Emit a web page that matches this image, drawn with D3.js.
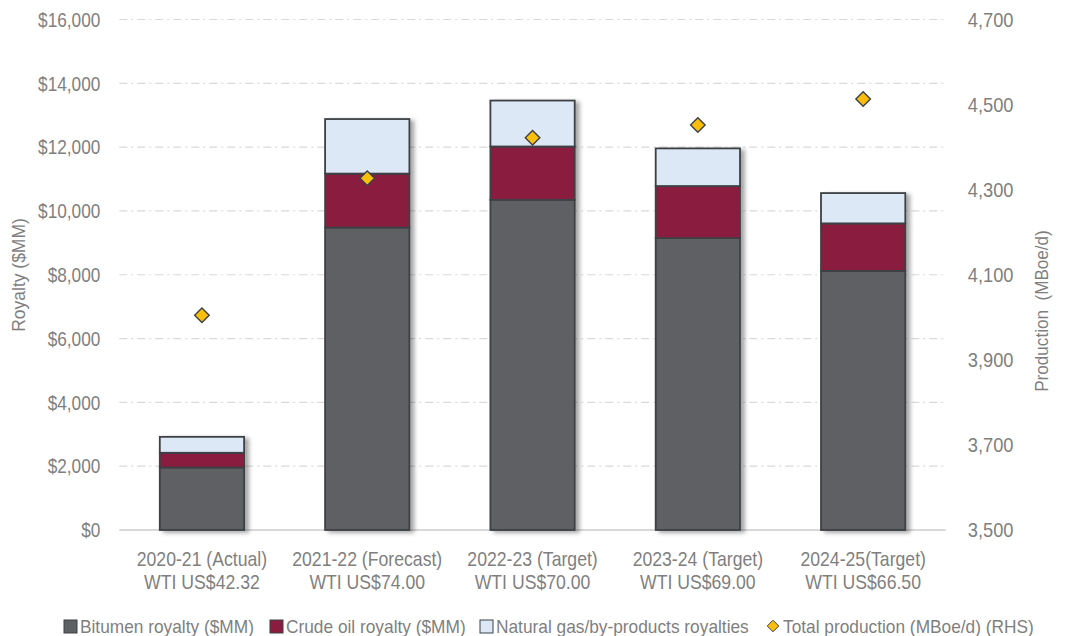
<!DOCTYPE html>
<html>
<head>
<meta charset="utf-8">
<script src="https://cdn.jsdelivr.net/npm/d3@7"></script>
<style>
  body { margin: 0; background: #fff; }
  text { font-family: 'Liberation Sans', Arial, sans-serif; fill: #7f7f7f; }
</style>
</head>
<body>
<svg id="chart" width="1066" height="636"></svg>
<script>
// data
const years = ['2020-21 (Actual)', '2021-22 (Forecast)', '2022-23 (Target)', '2023-24 (Target)', '2024-25(Target)'];
const wti = ['WTI US$42.32', 'WTI US$74.00', 'WTI US$70.00', 'WTI US$69.00', 'WTI US$66.50'];
const bitumen = [1960, 9480, 10350, 9150, 8120];
const crudeOil = [460, 1690, 1670, 1630, 1490];
const natGas = [500, 1710, 1440, 1180, 950];
const production = [4005, 4327, 4422, 4452, 4513];
const leftTicks = [0, 2000, 4000, 6000, 8000, 10000, 12000, 14000, 16000];
const rightTicks = [3500, 3700, 3900, 4100, 4300, 4500, 4700];
const seriesNames = ['Bitumen royalty ($MM)', 'Crude oil royalty ($MM)', 'Natural gas/by-products royalties', 'Total production (MBoe/d) (RHS)'];
const colors = ['#5e6164', '#8a1c3f', '#dce8f6', '#fbbf0b'];

const svg = d3.select('#chart');
const plotLeft = 119.3, plotRight = 945.8, plotTop = 19.5, plotBottom = 530;

const x = d3.scaleBand().domain(years).range([plotLeft, plotRight]).paddingInner(0.49).paddingOuter(0.245);
const y = d3.scaleLinear().domain([0, 16000]).range([plotBottom, plotTop]);
const y2 = d3.scaleLinear().domain([3500, 4700]).range([plotBottom, plotTop]);

// no narrow font installed, so squeeze the glyphs horizontally
function squeeze(sel, factor) {
	sel.each(function () {
		const len = this.getComputedTextLength();
		d3.select(this).attr('textLength', len * factor).attr('lengthAdjust', 'spacingAndGlyphs');
	});
}

const defs = svg.append('defs');
defs.append('filter').attr('id', 'shadow').attr('x', '-20%').attr('y', '-20%').attr('width', '150%').attr('height', '150%')
	.append('feDropShadow').attr('dx', 4).attr('dy', 2).attr('stdDeviation', 2)
	.attr('flood-color', '#000').attr('flood-opacity', 0.35);

/* gridlines */
svg.append('g').selectAll('line').data(leftTicks.filter(d => d > 0)).join('line')
	.attr('x1', plotLeft).attr('x2', plotRight)
	.attr('y1', d => y(d)).attr('y2', d => y(d))
	.attr('stroke', '#d9d9d9').attr('stroke-width', 1.2)
	.attr('stroke-dasharray', '8,4,2,4');

svg.append('line').attr('x1', plotLeft).attr('x2', plotRight).attr('y1', plotBottom).attr('y2', plotBottom)
	.attr('stroke', '#d9d9d9').attr('stroke-width', 2);

/* left axis */
const yAxis = svg.append('g').attr('transform', `translate(${plotLeft},0)`)
	.call(d3.axisLeft(y).tickValues(leftTicks).tickSize(0).tickPadding(19).tickFormat(d => '$' + d3.format(',')(d)));
yAxis.select('.domain').remove();
yAxis.attr('font-family', null).attr('font-size', null);
yAxis.selectAll('text').attr('font-size', 21).attr('fill', '#7f7f7f').call(squeeze, 0.82);

/* right axis */
const yAxis2 = svg.append('g').attr('transform', `translate(${plotRight},0)`)
	.call(d3.axisRight(y2).tickValues(rightTicks).tickSize(0).tickPadding(22).tickFormat(d3.format(',')));
yAxis2.select('.domain').remove();
yAxis2.attr('font-family', null).attr('font-size', null);
yAxis2.selectAll('text').attr('font-size', 21).attr('fill', '#7f7f7f').call(squeeze, 0.87);

svg.append('text').attr('transform', 'translate(25,275) rotate(-90)')
	.attr('text-anchor', 'middle').attr('font-size', 19).text('Royalty ($MM)').call(squeeze, 0.92);
svg.append('text').attr('transform', 'translate(1048,311) rotate(-90)')
	.attr('text-anchor', 'middle').attr('font-size', 19).attr('xml:space', 'preserve').text('Production  (MBoe/d)')
	.call(squeeze, 0.9);

/* stacked bars */
const rows = years.map((yr, i) => ({ year: yr, bitumen: bitumen[i], crude: crudeOil[i], gas: natGas[i] }));
const stack = d3.stack().keys(['bitumen', 'crude', 'gas'])(rows);

const barGroups = svg.append('g').selectAll('g').data(rows).join('g').attr('filter', 'url(#shadow)');
barGroups.each(function (d, i) {
	const g = d3.select(this);
	stack.forEach((s, k) => {
		g.append('rect')
			.attr('x', x(d.year))
			.attr('y', y(s[i][1]))
			.attr('width', x.bandwidth())
			.attr('height', y(s[i][0]) - y(s[i][1]))
			.attr('fill', colors[k])
			.attr('stroke', '#3d4144')
			.attr('stroke-width', 1.8);
	});
});

/* production diamonds */
const diamond = d3.symbol().type(d3.symbolDiamond2).size(135);
svg.append('g').selectAll('path').data(production).join('path')
	.attr('d', diamond)
	.attr('transform', (d, i) => `translate(${x(years[i]) + x.bandwidth() / 2},${y2(d)})`)
	.attr('fill', colors[3]).attr('stroke', '#3d4144').attr('stroke-width', 1.4);

/* x labels */
const xl = svg.append('g').selectAll('text').data(years).join('text')
	.attr('text-anchor', 'middle').attr('font-size', 21);
xl.append('tspan').attr('class', 'l1').attr('y', 566).attr('x', d => x(d) + x.bandwidth() / 2).text(d => d);
xl.append('tspan').attr('class', 'l2').attr('y', 589).attr('x', d => x(d) + x.bandwidth() / 2).text((d, i) => wti[i]);
xl.selectAll('tspan').call(squeeze, 0.84);

/* legend */
const legendX = [64, 270, 480, 766];
const legend = svg.append('g').attr('transform', 'translate(0,626)');
seriesNames.forEach((name, k) => {
	const item = legend.append('g').attr('transform', `translate(${legendX[k]},0)`);
	if (k < 3) {
		item.append('rect').attr('x', 0).attr('y', -6).attr('width', 13).attr('height', 13)
			.attr('fill', colors[k]).attr('stroke', '#3d4144').attr('stroke-width', 1);
	} else {
		item.append('path').attr('d', d3.symbol().type(d3.symbolDiamond2).size(85)())
			.attr('transform', 'translate(7,0)')
			.attr('fill', colors[k]).attr('stroke', '#3d4144').attr('stroke-width', 1);
	}
	item.append('text').attr('x', k < 3 ? 16 : 17).attr('y', 7).attr('font-size', 19).text(name).call(squeeze, 0.91);
});
</script>
</body>
</html>
